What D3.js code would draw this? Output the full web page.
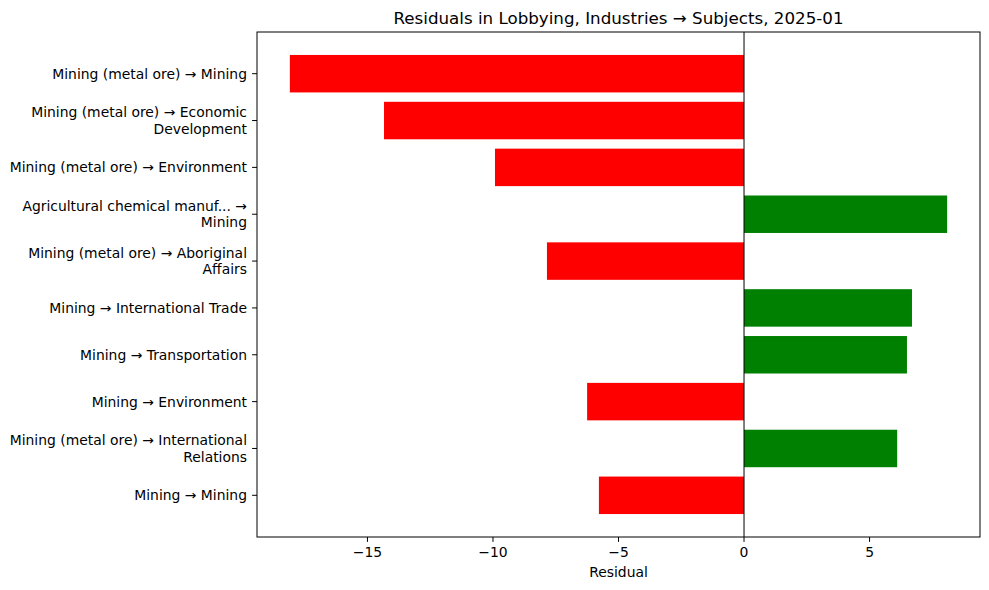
<!DOCTYPE html>
<html><head><meta charset="utf-8">
<script src="https://cdn.jsdelivr.net/npm/d3@7"></script>
<style>body{margin:0;background:#fff;} text{font-family:"DejaVu Sans",sans-serif;fill:#000;}</style>
</head><body>
<svg id="c" width="989" height="590"></svg>
<script>
const categories = [
  "Mining (metal ore) → Mining",
  "Mining (metal ore) → Economic\nDevelopment",
  "Mining (metal ore) → Environment",
  "Agricultural chemical manuf... →\nMining",
  "Mining (metal ore) → Aboriginal\nAffairs",
  "Mining → International Trade",
  "Mining → Transportation",
  "Mining → Environment",
  "Mining (metal ore) → International\nRelations",
  "Mining → Mining"
];
const residuals = [-18.09, -14.34, -9.92, 8.09, -7.85, 6.69, 6.49, -6.25, 6.10, -5.78];
const xTicks = [-15, -10, -5, 0, 5];
const title = "Residuals in Lobbying, Industries → Subjects, 2025-01";
const xLabel = "Residual";

const svg = d3.select("#c");
const L = 257, R = 980, T = 32, B = 537;
const xmin = d3.min(residuals), xmax = d3.max(residuals);
const xm = (xmax - xmin) * 0.05;
const x = d3.scaleLinear().domain([xmin - xm, xmax + xm]).range([L, R]);
const n = categories.length;
const ym = (n - 1 + 0.8) * 0.05;
const y = d3.scaleLinear().domain([-0.4 - ym, n - 1 + 0.4 + ym]).range([T, B]);

svg.append("g").selectAll("rect").data(residuals).join("rect")
  .attr("x", d => x(Math.min(0, d)))
  .attr("width", d => Math.abs(x(d) - x(0)))
  .attr("y", (d, i) => y(i - 0.4))
  .attr("height", (d, i) => y(i + 0.4) - y(i - 0.4))
  .attr("fill", d => d < 0 ? "red" : "green");

svg.append("line").attr("x1", x(0)).attr("x2", x(0)).attr("y1", T).attr("y2", B)
  .attr("stroke", "#000").attr("stroke-width", 1);

// frame
svg.append("rect").attr("x", L).attr("y", T).attr("width", R - L).attr("height", B - T)
  .attr("fill", "none").attr("stroke", "#000").attr("stroke-width", 1);

// x axis
const xg = svg.append("g").attr("transform", `translate(0,${B})`);
xTicks.forEach(t => {
  xg.append("line").attr("x1", x(t)).attr("x2", x(t)).attr("y1", 0).attr("y2", 4.9).attr("stroke", "#000");
  xg.append("text").attr("x", x(t)).attr("y", 19.5).attr("text-anchor", "middle")
    .style("font-size", "13.9px").text(t < 0 ? "−" + Math.abs(t) : String(t));
});
svg.append("text").attr("x", (L + R) / 2).attr("y", 577).attr("text-anchor", "middle")
  .style("font-size", "13.9px").text(xLabel);

// y axis
const yg = svg.append("g");
categories.forEach((c, i) => {
  const yy = y(i);
  yg.append("line").attr("x1", L - 4.9).attr("x2", L).attr("y1", yy).attr("y2", yy).attr("stroke", "#000");
  const lines = c.split("\n");
  const lh = 16.5;
  const t = yg.append("text").attr("text-anchor", "end").style("font-size", "13.9px");
  lines.forEach((ln, k) => {
    t.append("tspan").attr("x", L - 10).attr("y", yy + (k - (lines.length - 1) / 2) * lh + 5).text(ln);
  });
});

svg.append("text").attr("x", (L + R) / 2).attr("y", 24).attr("text-anchor", "middle")
  .style("font-size", "16.7px").text(title);
</script>
</body></html>
